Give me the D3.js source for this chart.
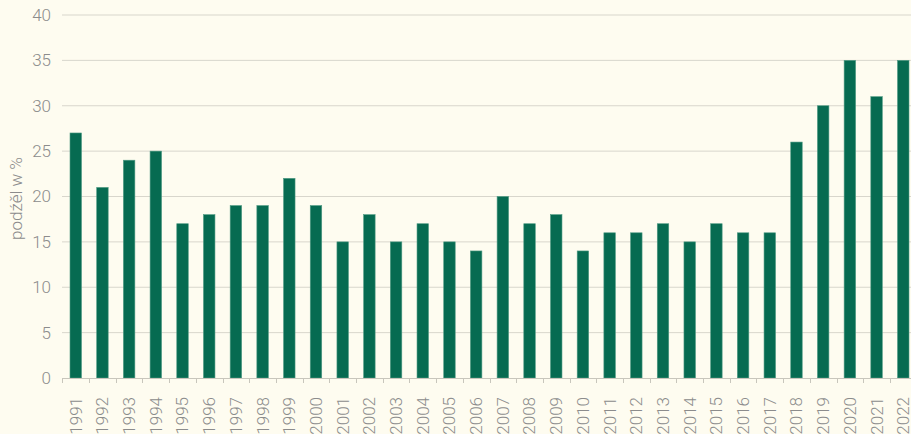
<!DOCTYPE html>
<html>
<head>
<meta charset="utf-8">
<script src="https://cdn.jsdelivr.net/npm/d3@7"></script>
<style>
  html, body { margin: 0; padding: 0; background: #fefcf0; }
  svg { display: block; font-family: Roboto, "Open Sans", sans-serif; }
</style>
</head>
<body>
<div id="chart"></div>
<script>
/* DATA */
var years = ["1991","1992","1993","1994","1995","1996","1997","1998","1999","2000",
  "2001","2002","2003","2004","2005","2006","2007","2008","2009","2010",
  "2011","2012","2013","2014","2015","2016","2017","2018","2019","2020","2021","2022"];
var shares = [27, 21, 24, 25, 17, 18, 19, 19, 22, 19,
  15, 18, 15, 17, 15, 14, 20, 17, 18, 14,
  16, 16, 17, 15, 17, 16, 16, 26, 30, 35, 31, 35];
var yTicks = [0, 5, 10, 15, 20, 25, 30, 35, 40];
var yLabel = "podźěl w %";

/* dimensions (plot runs a little past the right edge, as in the original) */
var W = 911, H = 434;
var margin = {top: 15, left: 62, bottom: 56};
var width = 855,
    height = H - margin.top - margin.bottom;

var svg = d3.select("#chart").append("svg")
  .attr("width", W)
  .attr("height", H);

svg.append("rect").attr("width", W).attr("height", H).attr("fill", "#fefcf0");

var g = svg.append("g")
  .attr("transform", "translate(" + margin.left + "," + margin.top + ")");

/* scales */
var x = d3.scaleBand().domain(years).range([0, width])
  .paddingInner(0.57).paddingOuter(0.3);
var y = d3.scaleLinear().domain([0, 40]).range([height, 0]);

/* gridlines */
g.append("g")
  .selectAll("line")
  .data(yTicks.filter(function(d) { return d > 0; }))
  .enter().append("line")
  .attr("x1", 0).attr("x2", width)
  .attr("y1", function(d) { return y(d); })
  .attr("y2", function(d) { return y(d); })
  .attr("stroke", "#d8d6cc")
  .attr("stroke-width", 1);

/* y tick labels */
g.append("g")
  .selectAll("text")
  .data(yTicks)
  .enter().append("text")
  .attr("x", -11)
  .attr("y", function(d) { return y(d); })
  .attr("dy", "0.35em")
  .attr("text-anchor", "end")
  .attr("fill", "#8c8c8c")
  .style("font-size", "17px")
  .style("font-weight", 300)
  .text(function(d) { return d; });

/* bars */
g.append("g")
  .selectAll("rect")
  .data(shares)
  .enter().append("rect")
  .attr("x", function(d, i) { return x(years[i]); })
  .attr("y", function(d) { return y(d); })
  .attr("width", x.bandwidth())
  .attr("height", function(d) { return height - y(d); })
  .attr("fill", "#066b51")
  .attr("stroke", "#4f9a83")
  .attr("stroke-width", 0.6);

/* x axis line and ticks at band edges */
var step = x.step();
var edges = years.map(function(d) { return x(d) - x.paddingInner() * step / 2; });
edges[0] = 0;
g.append("line")
  .attr("x1", 0).attr("x2", width)
  .attr("y1", height + 0.5).attr("y2", height + 0.5)
  .attr("stroke", "#c8c6bc");
g.append("g")
  .selectAll("line")
  .data(edges)
  .enter().append("line")
  .attr("x1", function(d) { return Math.round(d) + 0.5; })
  .attr("x2", function(d) { return Math.round(d) + 0.5; })
  .attr("y1", height)
  .attr("y2", height + 5)
  .attr("stroke", "#c8c6bc");

/* x tick labels */
g.append("g")
  .selectAll("text")
  .data(years)
  .enter().append("text")
  .attr("transform", function(d) {
    return "translate(" + (x(d) + x.bandwidth() / 2) + "," + (height + 19) + ") rotate(-90)";
  })
  .attr("dy", "0.35em")
  .attr("text-anchor", "end")
  .attr("fill", "#8c8c8c")
  .style("font-size", "17px")
  .style("font-weight", 300)
  .text(function(d) { return d; });

/* y axis title */
svg.append("text")
  .attr("transform", "translate(16," + (margin.top + height / 2 + 2) + ") rotate(-90)")
  .attr("dy", "0.35em")
  .attr("text-anchor", "middle")
  .attr("fill", "#8c8c8c")
  .style("font-size", "17px")
  .style("font-weight", 300)
  .text(yLabel);
</script>
</body>
</html>
